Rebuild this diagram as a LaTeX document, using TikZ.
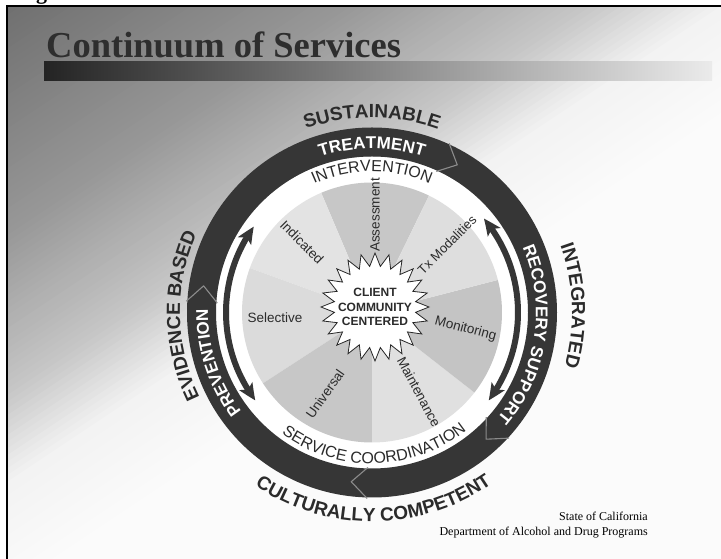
\documentclass[tikz,border=0pt]{standalone}
\usepackage{fontspec}
\setmainfont{Liberation Serif}
\newfontfamily\lsans{Liberation Sans}
\usetikzlibrary{decorations.text,shapes.geometric,arrows.meta,bending}
\definecolor{ringc}{HTML}{363636}
\definecolor{inkc}{HTML}{2B2B2B}
\newcommand\outerfnt{\lsans\bfseries\fontsize{19}{19}\selectfont}
\newcommand\ringfnt{\lsans\bfseries\fontsize{17}{17}\selectfont}
\newcommand\bandfnt{\lsans\fontsize{16}{16}\selectfont}
\newcommand\piefnt{\lsans\fontsize{13.5}{13.5}\selectfont}
\newcommand\starfnt{\lsans\bfseries\fontsize{12}{14.5}\selectfont}
\begin{document}
\begin{tikzpicture}[x=1pt,y=1pt,
  pielbl/.style={font=\piefnt, text=inkc, inner sep=0pt},
  dblarrow/.style={draw=ringc, line width=6pt,
     {Stealth[length=17pt,width=15pt,inset=4pt,bend]}-{Stealth[length=17pt,width=15pt,inset=4pt,bend]}},
  chev/.style={draw=black!45, line width=1.1pt, line join=round},
  txtpath/.style={decorate, decoration={text along path, text align=center, #1}}
]
\useasboundingbox (0,0) rectangle (721,559);
\fill[white] (0,0) rectangle (721,559);
% background gradient (diagonal, dark at top left)
\begin{scope}
\clip (7,0) rectangle (721,553);
\fill[black!1.5] (0,0) rectangle (721,559);
\foreach \i in {0,...,99} {
  \pgfmathsetmacro\sa{\i*10}
  \pgfmathsetmacro\sb{\i*10+11}
  \pgfmathsetmacro\sm{\i*10+5}
  \pgfmathsetmacro\g{\sm<350 ? 0.43+0.16*\sm/350 : (\sm<600 ? 0.59+0.19*(\sm-350)/250 : (\sm<730 ? 0.78+0.17*(\sm-600)/130 : min(0.985,0.95+0.035*(\sm-730)/170)))}
  \definecolor{bgc}{gray}{\g}
  \fill[bgc] (\sa+150,659) -- (\sb+150,659) -- (\sb-1050,-141) -- (\sa-1050,-141) -- cycle;
}
\end{scope}
\draw[line width=2.2pt] (7,0) -- (7,553) -- (721,553);
\node[anchor=base, inner sep=0pt, font=\bfseries\fontsize{22}{22}\selectfont] (gfrag) at (41.5,559.5) {g};
% title and bar
\node[anchor=base west, inner sep=0pt, text=black!82, font=\bfseries\fontsize{36.5}{36.5}\selectfont] (title) at (46,501.3) {Continuum of Services};
\shade[left color=black!86, middle color=black!35, right color=black!8] (44,478) rectangle (712,497.3);

\coordinate (C) at (372,246.5);
\coordinate (S) at (375,252);
% white disk and dark ring
\fill[white] (C) circle[radius=156];
\fill[ringc, even odd rule] (C) circle[radius=185] (C) circle[radius=156];
% pie wedges
\foreach \a/\b/\gv in {64/113/0.78, 113/160/0.89, 160/213/0.86, 213/270/0.78, 270/322/0.88, 322/374.5/0.77, 14.5/64/0.87} {
  \definecolor{wc}{gray}{\gv}
  \fill[wc] (C) -- ([shift={(\a:130)}]C) arc[start angle=\a, end angle=\b, radius=130] -- cycle;
}
% ring junction arrowheads
\foreach \t in {176,65,-43,-92} {
  \draw[chev] ([shift={(\t+0.5:186)}]C) -- ([shift={(\t-5:170.5)}]C) -- ([shift={(\t+0.5:155)}]C);
}
% double arrows
\coordinate (la) at ([shift={(144:146)}]C);
\coordinate (ra) at ([shift={(40:146)}]C);
\draw[dblarrow] (la) arc[start angle=144, end angle=217, radius=146];
\draw[dblarrow] (ra) arc[start angle=40, end angle=-37, radius=146];
% star
\node[star, star points=24, star point ratio=1.32, minimum size=108pt, inner sep=0pt, draw=black!85, line width=0.8pt, fill=white] (star) at (S) {};
\node[align=center, font=\starfnt, text=inkc, inner sep=0pt] (ctext) at (S) {CLIENT\\COMMUNITY\\CENTERED};
% pie labels
\node[pielbl, rotate=-45] (ind) at (302,317) {Indicated};
\node[pielbl, rotate=90] (ass) at (375,344) {Assessment};
\node[pielbl, rotate=45, font=\lsans\fontsize{13}{13}\selectfont] (txm) at (447,314) {Tx Modalities};
\node[pielbl, rotate=-15] (mon) at (465.5,230) {Monitoring};
\node[pielbl, rotate=-62] (mai) at (419,167) {Maintenance};
\node[pielbl, rotate=55] (uni) at (325,165) {Universal};
\node[pielbl] (sel) at (275,241.3) {Selective};
% texts on the dark ring (white)
\path[txtpath={text={|\ringfnt|TREATMENT}, text color=white}] ([shift={(140:164)}]C) arc[start angle=140, end angle=40, radius=164];
\path[txtpath={text={|\ringfnt|RECOVERY SUPPORT}, text color=white}] ([shift={(41.5:164)}]C) arc[start angle=41.5, end angle=-58.5, radius=164];
\path[txtpath={text={|\ringfnt|PREVENTION}, text color=white}] ([shift={(248:164)}]C) arc[start angle=248, end angle=148, radius=164];
% texts in the white band
\path[txtpath={text={|\bandfnt|INTERVENTION}, text color=inkc}] ([shift={(140:141)}]C) arc[start angle=140, end angle=40, radius=141];
\path[txtpath={text={|\bandfnt|SERVICE COORDINATION}, text color=inkc}] ([shift={(201:151)}]C) arc[start angle=201, end angle=341, radius=151];
% outer texts
\path[txtpath={text={|\outerfnt|SUSTAINABLE}, text color=inkc}] ([shift={(140:195)}]C) arc[start angle=140, end angle=40, radius=195];
\path[txtpath={text={|\outerfnt|INTEGRATED}, text color=inkc}] ([shift={(52:200)}]C) arc[start angle=52, end angle=-48, radius=200];
\path[txtpath={text={|\outerfnt|EVIDENCE BASED}, text color=inkc}] ([shift={(231:192)}]C) arc[start angle=231, end angle=131, radius=192];
\path[txtpath={text={|\outerfnt|CULTURALLY COMPETENT}, text color=inkc}] ([shift={(200:209)}]C) arc[start angle=200, end angle=341, radius=209];
% footer
\node[anchor=base east, inner sep=0pt, font=\fontsize{12}{12}\selectfont] (st1) at (648,38) {State of California};
\node[anchor=base east, inner sep=0pt, font=\fontsize{12}{12}\selectfont] (st2) at (648,23) {Department of Alcohol and Drug Programs};
\end{tikzpicture}
\end{document}
